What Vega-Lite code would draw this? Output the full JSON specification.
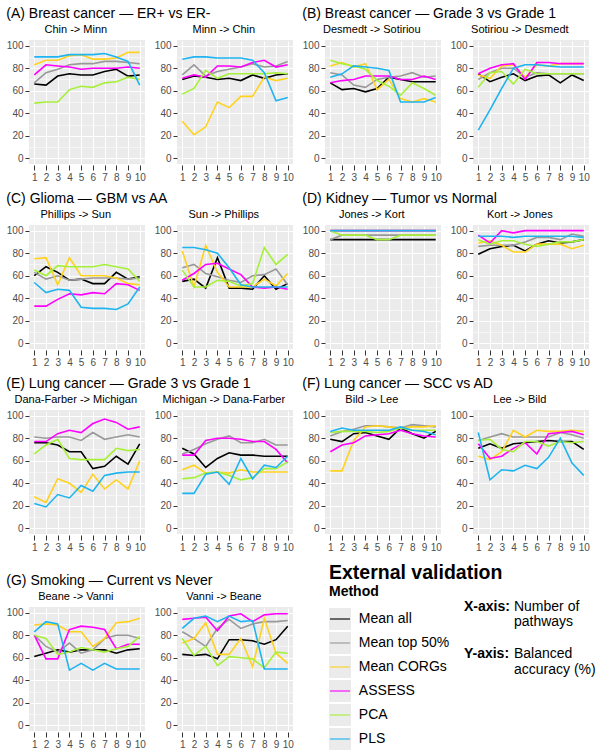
{
"$schema":"https://vega.github.io/schema/vega-lite/v6.json",
"background":"white",
"padding":{"left":6,"top":7,"right":2,"bottom":2},
"datasets":{"pts":[
{"p":"A1","c":"a","x":1,"y":66},{"p":"A1","c":"a","x":2,"y":65},{"p":"A1","c":"a","x":3,"y":73},{"p":"A1","c":"a","x":4,"y":75},{"p":"A1","c":"a","x":5,"y":74},{"p":"A1","c":"a","x":6,"y":74},{"p":"A1","c":"a","x":7,"y":77},{"p":"A1","c":"a","x":8,"y":79},{"p":"A1","c":"a","x":9,"y":73},{"p":"A1","c":"a","x":10,"y":74},
{"p":"A1","c":"b","x":1,"y":67},{"p":"A1","c":"b","x":2,"y":76},{"p":"A1","c":"b","x":3,"y":79},{"p":"A1","c":"b","x":4,"y":83},{"p":"A1","c":"b","x":5,"y":84},{"p":"A1","c":"b","x":6,"y":84},{"p":"A1","c":"b","x":7,"y":86},{"p":"A1","c":"b","x":8,"y":86},{"p":"A1","c":"b","x":9,"y":85},{"p":"A1","c":"b","x":10,"y":84},
{"p":"A1","c":"c","x":1,"y":83},{"p":"A1","c":"c","x":2,"y":87},{"p":"A1","c":"c","x":3,"y":87},{"p":"A1","c":"c","x":4,"y":91},{"p":"A1","c":"c","x":5,"y":92},{"p":"A1","c":"c","x":6,"y":88},{"p":"A1","c":"c","x":7,"y":88},{"p":"A1","c":"c","x":8,"y":89},{"p":"A1","c":"c","x":9,"y":94},{"p":"A1","c":"c","x":10,"y":94},
{"p":"A1","c":"d","x":1,"y":74},{"p":"A1","c":"d","x":2,"y":83},{"p":"A1","c":"d","x":3,"y":82},{"p":"A1","c":"d","x":4,"y":81},{"p":"A1","c":"d","x":5,"y":79},{"p":"A1","c":"d","x":6,"y":80},{"p":"A1","c":"d","x":7,"y":80},{"p":"A1","c":"d","x":8,"y":80},{"p":"A1","c":"d","x":9,"y":81},{"p":"A1","c":"d","x":10,"y":80},
{"p":"A1","c":"e","x":1,"y":49},{"p":"A1","c":"e","x":2,"y":50},{"p":"A1","c":"e","x":3,"y":50},{"p":"A1","c":"e","x":4,"y":61},{"p":"A1","c":"e","x":5,"y":64},{"p":"A1","c":"e","x":6,"y":63},{"p":"A1","c":"e","x":7,"y":67},{"p":"A1","c":"e","x":8,"y":68},{"p":"A1","c":"e","x":9,"y":72},{"p":"A1","c":"e","x":10,"y":70},
{"p":"A1","c":"f","x":1,"y":90},{"p":"A1","c":"f","x":2,"y":90},{"p":"A1","c":"f","x":3,"y":90},{"p":"A1","c":"f","x":4,"y":92},{"p":"A1","c":"f","x":5,"y":92},{"p":"A1","c":"f","x":6,"y":92},{"p":"A1","c":"f","x":7,"y":93},{"p":"A1","c":"f","x":8,"y":90},{"p":"A1","c":"f","x":9,"y":86},{"p":"A1","c":"f","x":10,"y":65},
{"p":"A2","c":"a","x":1,"y":70},{"p":"A2","c":"a","x":2,"y":73},{"p":"A2","c":"a","x":3,"y":72},{"p":"A2","c":"a","x":4,"y":70},{"p":"A2","c":"a","x":5,"y":71},{"p":"A2","c":"a","x":6,"y":69},{"p":"A2","c":"a","x":7,"y":74},{"p":"A2","c":"a","x":8,"y":71},{"p":"A2","c":"a","x":9,"y":74},{"p":"A2","c":"a","x":10,"y":75},
{"p":"A2","c":"b","x":1,"y":74},{"p":"A2","c":"b","x":2,"y":83},{"p":"A2","c":"b","x":3,"y":73},{"p":"A2","c":"b","x":4,"y":77},{"p":"A2","c":"b","x":5,"y":79},{"p":"A2","c":"b","x":6,"y":81},{"p":"A2","c":"b","x":7,"y":84},{"p":"A2","c":"b","x":8,"y":81},{"p":"A2","c":"b","x":9,"y":82},{"p":"A2","c":"b","x":10,"y":86},
{"p":"A2","c":"c","x":1,"y":33},{"p":"A2","c":"c","x":2,"y":21},{"p":"A2","c":"c","x":3,"y":28},{"p":"A2","c":"c","x":4,"y":50},{"p":"A2","c":"c","x":5,"y":45},{"p":"A2","c":"c","x":6,"y":55},{"p":"A2","c":"c","x":7,"y":55},{"p":"A2","c":"c","x":8,"y":72},{"p":"A2","c":"c","x":9,"y":69},{"p":"A2","c":"c","x":10,"y":71},
{"p":"A2","c":"d","x":1,"y":71},{"p":"A2","c":"d","x":2,"y":74},{"p":"A2","c":"d","x":3,"y":72},{"p":"A2","c":"d","x":4,"y":82},{"p":"A2","c":"d","x":5,"y":82},{"p":"A2","c":"d","x":6,"y":81},{"p":"A2","c":"d","x":7,"y":85},{"p":"A2","c":"d","x":8,"y":87},{"p":"A2","c":"d","x":9,"y":81},{"p":"A2","c":"d","x":10,"y":83},
{"p":"A2","c":"e","x":1,"y":57},{"p":"A2","c":"e","x":2,"y":62},{"p":"A2","c":"e","x":3,"y":78},{"p":"A2","c":"e","x":4,"y":71},{"p":"A2","c":"e","x":5,"y":75},{"p":"A2","c":"e","x":6,"y":75},{"p":"A2","c":"e","x":7,"y":75},{"p":"A2","c":"e","x":8,"y":75},{"p":"A2","c":"e","x":9,"y":76},{"p":"A2","c":"e","x":10,"y":75},
{"p":"A2","c":"f","x":1,"y":88},{"p":"A2","c":"f","x":2,"y":90},{"p":"A2","c":"f","x":3,"y":90},{"p":"A2","c":"f","x":4,"y":89},{"p":"A2","c":"f","x":5,"y":89},{"p":"A2","c":"f","x":6,"y":89},{"p":"A2","c":"f","x":7,"y":87},{"p":"A2","c":"f","x":8,"y":76},{"p":"A2","c":"f","x":9,"y":51},{"p":"A2","c":"f","x":10,"y":54},
{"p":"B1","c":"a","x":1,"y":67},{"p":"B1","c":"a","x":2,"y":61},{"p":"B1","c":"a","x":3,"y":62},{"p":"B1","c":"a","x":4,"y":59},{"p":"B1","c":"a","x":5,"y":62},{"p":"B1","c":"a","x":6,"y":72},{"p":"B1","c":"a","x":7,"y":70},{"p":"B1","c":"a","x":8,"y":68},{"p":"B1","c":"a","x":9,"y":68},{"p":"B1","c":"a","x":10,"y":68},
{"p":"B1","c":"b","x":1,"y":76},{"p":"B1","c":"b","x":2,"y":74},{"p":"B1","c":"b","x":3,"y":65},{"p":"B1","c":"b","x":4,"y":63},{"p":"B1","c":"b","x":5,"y":70},{"p":"B1","c":"b","x":6,"y":72},{"p":"B1","c":"b","x":7,"y":73},{"p":"B1","c":"b","x":8,"y":76},{"p":"B1","c":"b","x":9,"y":72},{"p":"B1","c":"b","x":10,"y":73},
{"p":"B1","c":"c","x":1,"y":82},{"p":"B1","c":"c","x":2,"y":85},{"p":"B1","c":"c","x":3,"y":81},{"p":"B1","c":"c","x":4,"y":84},{"p":"B1","c":"c","x":5,"y":61},{"p":"B1","c":"c","x":6,"y":70},{"p":"B1","c":"c","x":7,"y":53},{"p":"B1","c":"c","x":8,"y":50},{"p":"B1","c":"c","x":9,"y":53},{"p":"B1","c":"c","x":10,"y":50},
{"p":"B1","c":"d","x":1,"y":67},{"p":"B1","c":"d","x":2,"y":69},{"p":"B1","c":"d","x":3,"y":70},{"p":"B1","c":"d","x":4,"y":73},{"p":"B1","c":"d","x":5,"y":73},{"p":"B1","c":"d","x":6,"y":73},{"p":"B1","c":"d","x":7,"y":70},{"p":"B1","c":"d","x":8,"y":70},{"p":"B1","c":"d","x":9,"y":73},{"p":"B1","c":"d","x":10,"y":70},
{"p":"B1","c":"e","x":1,"y":87},{"p":"B1","c":"e","x":2,"y":84},{"p":"B1","c":"e","x":3,"y":82},{"p":"B1","c":"e","x":4,"y":79},{"p":"B1","c":"e","x":5,"y":69},{"p":"B1","c":"e","x":6,"y":64},{"p":"B1","c":"e","x":7,"y":56},{"p":"B1","c":"e","x":8,"y":67},{"p":"B1","c":"e","x":9,"y":62},{"p":"B1","c":"e","x":10,"y":56},
{"p":"B1","c":"f","x":1,"y":72},{"p":"B1","c":"f","x":2,"y":75},{"p":"B1","c":"f","x":3,"y":82},{"p":"B1","c":"f","x":4,"y":81},{"p":"B1","c":"f","x":5,"y":80},{"p":"B1","c":"f","x":6,"y":78},{"p":"B1","c":"f","x":7,"y":50},{"p":"B1","c":"f","x":8,"y":50},{"p":"B1","c":"f","x":9,"y":50},{"p":"B1","c":"f","x":10,"y":54},
{"p":"B2","c":"a","x":1,"y":75},{"p":"B2","c":"a","x":2,"y":68},{"p":"B2","c":"a","x":3,"y":72},{"p":"B2","c":"a","x":4,"y":75},{"p":"B2","c":"a","x":5,"y":69},{"p":"B2","c":"a","x":6,"y":73},{"p":"B2","c":"a","x":7,"y":74},{"p":"B2","c":"a","x":8,"y":67},{"p":"B2","c":"a","x":9,"y":74},{"p":"B2","c":"a","x":10,"y":69},
{"p":"B2","c":"b","x":1,"y":70},{"p":"B2","c":"b","x":2,"y":76},{"p":"B2","c":"b","x":3,"y":80},{"p":"B2","c":"b","x":4,"y":80},{"p":"B2","c":"b","x":5,"y":72},{"p":"B2","c":"b","x":6,"y":76},{"p":"B2","c":"b","x":7,"y":75},{"p":"B2","c":"b","x":8,"y":75},{"p":"B2","c":"b","x":9,"y":75},{"p":"B2","c":"b","x":10,"y":75},
{"p":"B2","c":"c","x":1,"y":74},{"p":"B2","c":"c","x":2,"y":71},{"p":"B2","c":"c","x":3,"y":82},{"p":"B2","c":"c","x":4,"y":83},{"p":"B2","c":"c","x":5,"y":72},{"p":"B2","c":"c","x":6,"y":83},{"p":"B2","c":"c","x":7,"y":82},{"p":"B2","c":"c","x":8,"y":84},{"p":"B2","c":"c","x":9,"y":84},{"p":"B2","c":"c","x":10,"y":84},
{"p":"B2","c":"d","x":1,"y":75},{"p":"B2","c":"d","x":2,"y":80},{"p":"B2","c":"d","x":3,"y":83},{"p":"B2","c":"d","x":4,"y":84},{"p":"B2","c":"d","x":5,"y":70},{"p":"B2","c":"d","x":6,"y":85},{"p":"B2","c":"d","x":7,"y":85},{"p":"B2","c":"d","x":8,"y":84},{"p":"B2","c":"d","x":9,"y":84},{"p":"B2","c":"d","x":10,"y":84},
{"p":"B2","c":"e","x":1,"y":63},{"p":"B2","c":"e","x":2,"y":76},{"p":"B2","c":"e","x":3,"y":77},{"p":"B2","c":"e","x":4,"y":66},{"p":"B2","c":"e","x":5,"y":79},{"p":"B2","c":"e","x":6,"y":75},{"p":"B2","c":"e","x":7,"y":75},{"p":"B2","c":"e","x":8,"y":75},{"p":"B2","c":"e","x":9,"y":75},{"p":"B2","c":"e","x":10,"y":75},
{"p":"B2","c":"f","x":1,"y":25},{"p":"B2","c":"f","x":2,"y":43},{"p":"B2","c":"f","x":3,"y":62},{"p":"B2","c":"f","x":4,"y":80},{"p":"B2","c":"f","x":5,"y":83},{"p":"B2","c":"f","x":6,"y":83},{"p":"B2","c":"f","x":7,"y":82},{"p":"B2","c":"f","x":8,"y":81},{"p":"B2","c":"f","x":9,"y":81},{"p":"B2","c":"f","x":10,"y":81},
{"p":"C1","c":"a","x":1,"y":60},{"p":"C1","c":"a","x":2,"y":68},{"p":"C1","c":"a","x":3,"y":63},{"p":"C1","c":"a","x":4,"y":56},{"p":"C1","c":"a","x":5,"y":57},{"p":"C1","c":"a","x":6,"y":53},{"p":"C1","c":"a","x":7,"y":53},{"p":"C1","c":"a","x":8,"y":63},{"p":"C1","c":"a","x":9,"y":57},{"p":"C1","c":"a","x":10,"y":59},
{"p":"C1","c":"b","x":1,"y":63},{"p":"C1","c":"b","x":2,"y":57},{"p":"C1","c":"b","x":3,"y":60},{"p":"C1","c":"b","x":4,"y":56},{"p":"C1","c":"b","x":5,"y":57},{"p":"C1","c":"b","x":6,"y":58},{"p":"C1","c":"b","x":7,"y":58},{"p":"C1","c":"b","x":8,"y":58},{"p":"C1","c":"b","x":9,"y":57},{"p":"C1","c":"b","x":10,"y":58},
{"p":"C1","c":"c","x":1,"y":75},{"p":"C1","c":"c","x":2,"y":76},{"p":"C1","c":"c","x":3,"y":52},{"p":"C1","c":"c","x":4,"y":76},{"p":"C1","c":"c","x":5,"y":60},{"p":"C1","c":"c","x":6,"y":60},{"p":"C1","c":"c","x":7,"y":60},{"p":"C1","c":"c","x":8,"y":58},{"p":"C1","c":"c","x":9,"y":53},{"p":"C1","c":"c","x":10,"y":52},
{"p":"C1","c":"d","x":1,"y":33},{"p":"C1","c":"d","x":2,"y":33},{"p":"C1","c":"d","x":3,"y":39},{"p":"C1","c":"d","x":4,"y":44},{"p":"C1","c":"d","x":5,"y":43},{"p":"C1","c":"d","x":6,"y":45},{"p":"C1","c":"d","x":7,"y":44},{"p":"C1","c":"d","x":8,"y":53},{"p":"C1","c":"d","x":9,"y":52},{"p":"C1","c":"d","x":10,"y":47},
{"p":"C1","c":"e","x":1,"y":65},{"p":"C1","c":"e","x":2,"y":60},{"p":"C1","c":"e","x":3,"y":69},{"p":"C1","c":"e","x":4,"y":68},{"p":"C1","c":"e","x":5,"y":68},{"p":"C1","c":"e","x":6,"y":68},{"p":"C1","c":"e","x":7,"y":70},{"p":"C1","c":"e","x":8,"y":68},{"p":"C1","c":"e","x":9,"y":66},{"p":"C1","c":"e","x":10,"y":55},
{"p":"C1","c":"f","x":1,"y":54},{"p":"C1","c":"f","x":2,"y":45},{"p":"C1","c":"f","x":3,"y":48},{"p":"C1","c":"f","x":4,"y":47},{"p":"C1","c":"f","x":5,"y":32},{"p":"C1","c":"f","x":6,"y":31},{"p":"C1","c":"f","x":7,"y":31},{"p":"C1","c":"f","x":8,"y":30},{"p":"C1","c":"f","x":9,"y":35},{"p":"C1","c":"f","x":10,"y":50},
{"p":"C2","c":"a","x":1,"y":55},{"p":"C2","c":"a","x":2,"y":57},{"p":"C2","c":"a","x":3,"y":49},{"p":"C2","c":"a","x":4,"y":76},{"p":"C2","c":"a","x":5,"y":49},{"p":"C2","c":"a","x":6,"y":49},{"p":"C2","c":"a","x":7,"y":48},{"p":"C2","c":"a","x":8,"y":60},{"p":"C2","c":"a","x":9,"y":48},{"p":"C2","c":"a","x":10,"y":53},
{"p":"C2","c":"b","x":1,"y":67},{"p":"C2","c":"b","x":2,"y":70},{"p":"C2","c":"b","x":3,"y":62},{"p":"C2","c":"b","x":4,"y":59},{"p":"C2","c":"b","x":5,"y":56},{"p":"C2","c":"b","x":6,"y":54},{"p":"C2","c":"b","x":7,"y":60},{"p":"C2","c":"b","x":8,"y":61},{"p":"C2","c":"b","x":9,"y":66},{"p":"C2","c":"b","x":10,"y":52},
{"p":"C2","c":"c","x":1,"y":82},{"p":"C2","c":"c","x":2,"y":50},{"p":"C2","c":"c","x":3,"y":87},{"p":"C2","c":"c","x":4,"y":63},{"p":"C2","c":"c","x":5,"y":50},{"p":"C2","c":"c","x":6,"y":50},{"p":"C2","c":"c","x":7,"y":50},{"p":"C2","c":"c","x":8,"y":57},{"p":"C2","c":"c","x":9,"y":51},{"p":"C2","c":"c","x":10,"y":62},
{"p":"C2","c":"d","x":1,"y":56},{"p":"C2","c":"d","x":2,"y":62},{"p":"C2","c":"d","x":3,"y":70},{"p":"C2","c":"d","x":4,"y":71},{"p":"C2","c":"d","x":5,"y":66},{"p":"C2","c":"d","x":6,"y":61},{"p":"C2","c":"d","x":7,"y":50},{"p":"C2","c":"d","x":8,"y":49},{"p":"C2","c":"d","x":9,"y":50},{"p":"C2","c":"d","x":10,"y":48},
{"p":"C2","c":"e","x":1,"y":65},{"p":"C2","c":"e","x":2,"y":50},{"p":"C2","c":"e","x":3,"y":50},{"p":"C2","c":"e","x":4,"y":56},{"p":"C2","c":"e","x":5,"y":55},{"p":"C2","c":"e","x":6,"y":51},{"p":"C2","c":"e","x":7,"y":53},{"p":"C2","c":"e","x":8,"y":85},{"p":"C2","c":"e","x":9,"y":70},{"p":"C2","c":"e","x":10,"y":79},
{"p":"C2","c":"f","x":1,"y":85},{"p":"C2","c":"f","x":2,"y":85},{"p":"C2","c":"f","x":3,"y":83},{"p":"C2","c":"f","x":4,"y":80},{"p":"C2","c":"f","x":5,"y":67},{"p":"C2","c":"f","x":6,"y":52},{"p":"C2","c":"f","x":7,"y":50},{"p":"C2","c":"f","x":8,"y":50},{"p":"C2","c":"f","x":9,"y":50},{"p":"C2","c":"f","x":10,"y":50},
{"p":"D1","c":"a","x":1,"y":92},{"p":"D1","c":"a","x":2,"y":92},{"p":"D1","c":"a","x":3,"y":92},{"p":"D1","c":"a","x":4,"y":92},{"p":"D1","c":"a","x":5,"y":92},{"p":"D1","c":"a","x":6,"y":92},{"p":"D1","c":"a","x":7,"y":92},{"p":"D1","c":"a","x":8,"y":92},{"p":"D1","c":"a","x":9,"y":92},{"p":"D1","c":"a","x":10,"y":92},
{"p":"D1","c":"b","x":1,"y":92},{"p":"D1","c":"b","x":2,"y":96},{"p":"D1","c":"b","x":3,"y":96},{"p":"D1","c":"b","x":4,"y":96},{"p":"D1","c":"b","x":5,"y":96},{"p":"D1","c":"b","x":6,"y":96},{"p":"D1","c":"b","x":7,"y":96},{"p":"D1","c":"b","x":8,"y":96},{"p":"D1","c":"b","x":9,"y":96},{"p":"D1","c":"b","x":10,"y":96},
{"p":"D1","c":"c","x":1,"y":100},{"p":"D1","c":"c","x":2,"y":100},{"p":"D1","c":"c","x":3,"y":100},{"p":"D1","c":"c","x":4,"y":100},{"p":"D1","c":"c","x":5,"y":100},{"p":"D1","c":"c","x":6,"y":100},{"p":"D1","c":"c","x":7,"y":100},{"p":"D1","c":"c","x":8,"y":100},{"p":"D1","c":"c","x":9,"y":100},{"p":"D1","c":"c","x":10,"y":100},
{"p":"D1","c":"d","x":1,"y":100},{"p":"D1","c":"d","x":2,"y":100},{"p":"D1","c":"d","x":3,"y":100},{"p":"D1","c":"d","x":4,"y":100},{"p":"D1","c":"d","x":5,"y":100},{"p":"D1","c":"d","x":6,"y":100},{"p":"D1","c":"d","x":7,"y":100},{"p":"D1","c":"d","x":8,"y":100},{"p":"D1","c":"d","x":9,"y":100},{"p":"D1","c":"d","x":10,"y":100},
{"p":"D1","c":"e","x":1,"y":100},{"p":"D1","c":"e","x":2,"y":96},{"p":"D1","c":"e","x":3,"y":96},{"p":"D1","c":"e","x":4,"y":96},{"p":"D1","c":"e","x":5,"y":92},{"p":"D1","c":"e","x":6,"y":92},{"p":"D1","c":"e","x":7,"y":96},{"p":"D1","c":"e","x":8,"y":96},{"p":"D1","c":"e","x":9,"y":96},{"p":"D1","c":"e","x":10,"y":96},
{"p":"D1","c":"f","x":1,"y":100},{"p":"D1","c":"f","x":2,"y":100},{"p":"D1","c":"f","x":3,"y":100},{"p":"D1","c":"f","x":4,"y":100},{"p":"D1","c":"f","x":5,"y":100},{"p":"D1","c":"f","x":6,"y":100},{"p":"D1","c":"f","x":7,"y":100},{"p":"D1","c":"f","x":8,"y":100},{"p":"D1","c":"f","x":9,"y":100},{"p":"D1","c":"f","x":10,"y":100},
{"p":"D2","c":"a","x":1,"y":79},{"p":"D2","c":"a","x":2,"y":84},{"p":"D2","c":"a","x":3,"y":86},{"p":"D2","c":"a","x":4,"y":87},{"p":"D2","c":"a","x":5,"y":82},{"p":"D2","c":"a","x":6,"y":88},{"p":"D2","c":"a","x":7,"y":91},{"p":"D2","c":"a","x":8,"y":89},{"p":"D2","c":"a","x":9,"y":90},{"p":"D2","c":"a","x":10,"y":92},
{"p":"D2","c":"b","x":1,"y":86},{"p":"D2","c":"b","x":2,"y":87},{"p":"D2","c":"b","x":3,"y":87},{"p":"D2","c":"b","x":4,"y":87},{"p":"D2","c":"b","x":5,"y":90},{"p":"D2","c":"b","x":6,"y":94},{"p":"D2","c":"b","x":7,"y":94},{"p":"D2","c":"b","x":8,"y":92},{"p":"D2","c":"b","x":9,"y":97},{"p":"D2","c":"b","x":10,"y":95},
{"p":"D2","c":"c","x":1,"y":89},{"p":"D2","c":"c","x":2,"y":91},{"p":"D2","c":"c","x":3,"y":87},{"p":"D2","c":"c","x":4,"y":81},{"p":"D2","c":"c","x":5,"y":81},{"p":"D2","c":"c","x":6,"y":88},{"p":"D2","c":"c","x":7,"y":88},{"p":"D2","c":"c","x":8,"y":88},{"p":"D2","c":"c","x":9,"y":84},{"p":"D2","c":"c","x":10,"y":87},
{"p":"D2","c":"d","x":1,"y":96},{"p":"D2","c":"d","x":2,"y":89},{"p":"D2","c":"d","x":3,"y":100},{"p":"D2","c":"d","x":4,"y":98},{"p":"D2","c":"d","x":5,"y":100},{"p":"D2","c":"d","x":6,"y":100},{"p":"D2","c":"d","x":7,"y":100},{"p":"D2","c":"d","x":8,"y":100},{"p":"D2","c":"d","x":9,"y":100},{"p":"D2","c":"d","x":10,"y":100},
{"p":"D2","c":"e","x":1,"y":92},{"p":"D2","c":"e","x":2,"y":88},{"p":"D2","c":"e","x":3,"y":91},{"p":"D2","c":"e","x":4,"y":91},{"p":"D2","c":"e","x":5,"y":88},{"p":"D2","c":"e","x":6,"y":86},{"p":"D2","c":"e","x":7,"y":88},{"p":"D2","c":"e","x":8,"y":90},{"p":"D2","c":"e","x":9,"y":90},{"p":"D2","c":"e","x":10,"y":92},
{"p":"D2","c":"f","x":1,"y":95},{"p":"D2","c":"f","x":2,"y":95},{"p":"D2","c":"f","x":3,"y":95},{"p":"D2","c":"f","x":4,"y":94},{"p":"D2","c":"f","x":5,"y":95},{"p":"D2","c":"f","x":6,"y":95},{"p":"D2","c":"f","x":7,"y":95},{"p":"D2","c":"f","x":8,"y":95},{"p":"D2","c":"f","x":9,"y":95},{"p":"D2","c":"f","x":10,"y":94},
{"p":"E1","c":"a","x":1,"y":76},{"p":"E1","c":"a","x":2,"y":76},{"p":"E1","c":"a","x":3,"y":74},{"p":"E1","c":"a","x":4,"y":68},{"p":"E1","c":"a","x":5,"y":68},{"p":"E1","c":"a","x":6,"y":53},{"p":"E1","c":"a","x":7,"y":55},{"p":"E1","c":"a","x":8,"y":64},{"p":"E1","c":"a","x":9,"y":57},{"p":"E1","c":"a","x":10,"y":75},
{"p":"E1","c":"b","x":1,"y":81},{"p":"E1","c":"b","x":2,"y":80},{"p":"E1","c":"b","x":3,"y":81},{"p":"E1","c":"b","x":4,"y":81},{"p":"E1","c":"b","x":5,"y":78},{"p":"E1","c":"b","x":6,"y":85},{"p":"E1","c":"b","x":7,"y":79},{"p":"E1","c":"b","x":8,"y":81},{"p":"E1","c":"b","x":9,"y":83},{"p":"E1","c":"b","x":10,"y":81},
{"p":"E1","c":"c","x":1,"y":28},{"p":"E1","c":"c","x":2,"y":23},{"p":"E1","c":"c","x":3,"y":44},{"p":"E1","c":"c","x":4,"y":40},{"p":"E1","c":"c","x":5,"y":32},{"p":"E1","c":"c","x":6,"y":48},{"p":"E1","c":"c","x":7,"y":35},{"p":"E1","c":"c","x":8,"y":43},{"p":"E1","c":"c","x":9,"y":35},{"p":"E1","c":"c","x":10,"y":60},
{"p":"E1","c":"d","x":1,"y":77},{"p":"E1","c":"d","x":2,"y":77},{"p":"E1","c":"d","x":3,"y":84},{"p":"E1","c":"d","x":4,"y":87},{"p":"E1","c":"d","x":5,"y":85},{"p":"E1","c":"d","x":6,"y":93},{"p":"E1","c":"d","x":7,"y":97},{"p":"E1","c":"d","x":8,"y":94},{"p":"E1","c":"d","x":9,"y":88},{"p":"E1","c":"d","x":10,"y":90},
{"p":"E1","c":"e","x":1,"y":66},{"p":"E1","c":"e","x":2,"y":74},{"p":"E1","c":"e","x":3,"y":79},{"p":"E1","c":"e","x":4,"y":62},{"p":"E1","c":"e","x":5,"y":61},{"p":"E1","c":"e","x":6,"y":61},{"p":"E1","c":"e","x":7,"y":61},{"p":"E1","c":"e","x":8,"y":71},{"p":"E1","c":"e","x":9,"y":69},{"p":"E1","c":"e","x":10,"y":70},
{"p":"E1","c":"f","x":1,"y":22},{"p":"E1","c":"f","x":2,"y":19},{"p":"E1","c":"f","x":3,"y":30},{"p":"E1","c":"f","x":4,"y":27},{"p":"E1","c":"f","x":5,"y":38},{"p":"E1","c":"f","x":6,"y":33},{"p":"E1","c":"f","x":7,"y":47},{"p":"E1","c":"f","x":8,"y":49},{"p":"E1","c":"f","x":9,"y":50},{"p":"E1","c":"f","x":10,"y":50},
{"p":"E2","c":"a","x":1,"y":71},{"p":"E2","c":"a","x":2,"y":66},{"p":"E2","c":"a","x":3,"y":54},{"p":"E2","c":"a","x":4,"y":62},{"p":"E2","c":"a","x":5,"y":67},{"p":"E2","c":"a","x":6,"y":65},{"p":"E2","c":"a","x":7,"y":65},{"p":"E2","c":"a","x":8,"y":64},{"p":"E2","c":"a","x":9,"y":64},{"p":"E2","c":"a","x":10,"y":64},
{"p":"E2","c":"b","x":1,"y":66},{"p":"E2","c":"b","x":2,"y":70},{"p":"E2","c":"b","x":3,"y":75},{"p":"E2","c":"b","x":4,"y":79},{"p":"E2","c":"b","x":5,"y":82},{"p":"E2","c":"b","x":6,"y":76},{"p":"E2","c":"b","x":7,"y":76},{"p":"E2","c":"b","x":8,"y":79},{"p":"E2","c":"b","x":9,"y":74},{"p":"E2","c":"b","x":10,"y":74},
{"p":"E2","c":"c","x":1,"y":52},{"p":"E2","c":"c","x":2,"y":56},{"p":"E2","c":"c","x":3,"y":49},{"p":"E2","c":"c","x":4,"y":50},{"p":"E2","c":"c","x":5,"y":49},{"p":"E2","c":"c","x":6,"y":52},{"p":"E2","c":"c","x":7,"y":50},{"p":"E2","c":"c","x":8,"y":50},{"p":"E2","c":"c","x":9,"y":50},{"p":"E2","c":"c","x":10,"y":50},
{"p":"E2","c":"d","x":1,"y":65},{"p":"E2","c":"d","x":2,"y":65},{"p":"E2","c":"d","x":3,"y":78},{"p":"E2","c":"d","x":4,"y":80},{"p":"E2","c":"d","x":5,"y":80},{"p":"E2","c":"d","x":6,"y":79},{"p":"E2","c":"d","x":7,"y":77},{"p":"E2","c":"d","x":8,"y":77},{"p":"E2","c":"d","x":9,"y":70},{"p":"E2","c":"d","x":10,"y":58},
{"p":"E2","c":"e","x":1,"y":44},{"p":"E2","c":"e","x":2,"y":45},{"p":"E2","c":"e","x":3,"y":49},{"p":"E2","c":"e","x":4,"y":50},{"p":"E2","c":"e","x":5,"y":47},{"p":"E2","c":"e","x":6,"y":43},{"p":"E2","c":"e","x":7,"y":45},{"p":"E2","c":"e","x":8,"y":53},{"p":"E2","c":"e","x":9,"y":53},{"p":"E2","c":"e","x":10,"y":59},
{"p":"E2","c":"f","x":1,"y":31},{"p":"E2","c":"f","x":2,"y":31},{"p":"E2","c":"f","x":3,"y":48},{"p":"E2","c":"f","x":4,"y":50},{"p":"E2","c":"f","x":5,"y":39},{"p":"E2","c":"f","x":6,"y":62},{"p":"E2","c":"f","x":7,"y":44},{"p":"E2","c":"f","x":8,"y":56},{"p":"E2","c":"f","x":9,"y":54},{"p":"E2","c":"f","x":10,"y":64},
{"p":"F1","c":"a","x":1,"y":79},{"p":"F1","c":"a","x":2,"y":77},{"p":"F1","c":"a","x":3,"y":84},{"p":"F1","c":"a","x":4,"y":85},{"p":"F1","c":"a","x":5,"y":82},{"p":"F1","c":"a","x":6,"y":79},{"p":"F1","c":"a","x":7,"y":89},{"p":"F1","c":"a","x":8,"y":84},{"p":"F1","c":"a","x":9,"y":80},{"p":"F1","c":"a","x":10,"y":86},
{"p":"F1","c":"b","x":1,"y":82},{"p":"F1","c":"b","x":2,"y":86},{"p":"F1","c":"b","x":3,"y":88},{"p":"F1","c":"b","x":4,"y":91},{"p":"F1","c":"b","x":5,"y":91},{"p":"F1","c":"b","x":6,"y":90},{"p":"F1","c":"b","x":7,"y":89},{"p":"F1","c":"b","x":8,"y":92},{"p":"F1","c":"b","x":9,"y":91},{"p":"F1","c":"b","x":10,"y":90},
{"p":"F1","c":"c","x":1,"y":51},{"p":"F1","c":"c","x":2,"y":51},{"p":"F1","c":"c","x":3,"y":78},{"p":"F1","c":"c","x":4,"y":90},{"p":"F1","c":"c","x":5,"y":91},{"p":"F1","c":"c","x":6,"y":90},{"p":"F1","c":"c","x":7,"y":89},{"p":"F1","c":"c","x":8,"y":90},{"p":"F1","c":"c","x":9,"y":90},{"p":"F1","c":"c","x":10,"y":91},
{"p":"F1","c":"d","x":1,"y":68},{"p":"F1","c":"d","x":2,"y":74},{"p":"F1","c":"d","x":3,"y":76},{"p":"F1","c":"d","x":4,"y":82},{"p":"F1","c":"d","x":5,"y":83},{"p":"F1","c":"d","x":6,"y":84},{"p":"F1","c":"d","x":7,"y":87},{"p":"F1","c":"d","x":8,"y":84},{"p":"F1","c":"d","x":9,"y":82},{"p":"F1","c":"d","x":10,"y":81},
{"p":"F1","c":"e","x":1,"y":85},{"p":"F1","c":"e","x":2,"y":86},{"p":"F1","c":"e","x":3,"y":86},{"p":"F1","c":"e","x":4,"y":86},{"p":"F1","c":"e","x":5,"y":85},{"p":"F1","c":"e","x":6,"y":86},{"p":"F1","c":"e","x":7,"y":89},{"p":"F1","c":"e","x":8,"y":87},{"p":"F1","c":"e","x":9,"y":87},{"p":"F1","c":"e","x":10,"y":87},
{"p":"F1","c":"f","x":1,"y":86},{"p":"F1","c":"f","x":2,"y":89},{"p":"F1","c":"f","x":3,"y":87},{"p":"F1","c":"f","x":4,"y":87},{"p":"F1","c":"f","x":5,"y":87},{"p":"F1","c":"f","x":6,"y":87},{"p":"F1","c":"f","x":7,"y":90},{"p":"F1","c":"f","x":8,"y":87},{"p":"F1","c":"f","x":9,"y":86},{"p":"F1","c":"f","x":10,"y":83},
{"p":"F2","c":"a","x":1,"y":71},{"p":"F2","c":"a","x":2,"y":75},{"p":"F2","c":"a","x":3,"y":71},{"p":"F2","c":"a","x":4,"y":75},{"p":"F2","c":"a","x":5,"y":76},{"p":"F2","c":"a","x":6,"y":77},{"p":"F2","c":"a","x":7,"y":78},{"p":"F2","c":"a","x":8,"y":77},{"p":"F2","c":"a","x":9,"y":77},{"p":"F2","c":"a","x":10,"y":70},
{"p":"F2","c":"b","x":1,"y":78},{"p":"F2","c":"b","x":2,"y":81},{"p":"F2","c":"b","x":3,"y":84},{"p":"F2","c":"b","x":4,"y":81},{"p":"F2","c":"b","x":5,"y":81},{"p":"F2","c":"b","x":6,"y":81},{"p":"F2","c":"b","x":7,"y":81},{"p":"F2","c":"b","x":8,"y":85},{"p":"F2","c":"b","x":9,"y":83},{"p":"F2","c":"b","x":10,"y":80},
{"p":"F2","c":"c","x":1,"y":64},{"p":"F2","c":"c","x":2,"y":61},{"p":"F2","c":"c","x":3,"y":68},{"p":"F2","c":"c","x":4,"y":87},{"p":"F2","c":"c","x":5,"y":81},{"p":"F2","c":"c","x":6,"y":87},{"p":"F2","c":"c","x":7,"y":86},{"p":"F2","c":"c","x":8,"y":86},{"p":"F2","c":"c","x":9,"y":87},{"p":"F2","c":"c","x":10,"y":86},
{"p":"F2","c":"d","x":1,"y":75},{"p":"F2","c":"d","x":2,"y":62},{"p":"F2","c":"d","x":3,"y":64},{"p":"F2","c":"d","x":4,"y":71},{"p":"F2","c":"d","x":5,"y":76},{"p":"F2","c":"d","x":6,"y":66},{"p":"F2","c":"d","x":7,"y":84},{"p":"F2","c":"d","x":8,"y":85},{"p":"F2","c":"d","x":9,"y":86},{"p":"F2","c":"d","x":10,"y":83},
{"p":"F2","c":"e","x":1,"y":78},{"p":"F2","c":"e","x":2,"y":79},{"p":"F2","c":"e","x":3,"y":70},{"p":"F2","c":"e","x":4,"y":68},{"p":"F2","c":"e","x":5,"y":77},{"p":"F2","c":"e","x":6,"y":77},{"p":"F2","c":"e","x":7,"y":73},{"p":"F2","c":"e","x":8,"y":77},{"p":"F2","c":"e","x":9,"y":76},{"p":"F2","c":"e","x":10,"y":77},
{"p":"F2","c":"f","x":1,"y":85},{"p":"F2","c":"f","x":2,"y":43},{"p":"F2","c":"f","x":3,"y":52},{"p":"F2","c":"f","x":4,"y":51},{"p":"F2","c":"f","x":5,"y":56},{"p":"F2","c":"f","x":6,"y":53},{"p":"F2","c":"f","x":7,"y":63},{"p":"F2","c":"f","x":8,"y":80},{"p":"F2","c":"f","x":9,"y":58},{"p":"F2","c":"f","x":10,"y":47},
{"p":"G1","c":"a","x":1,"y":61},{"p":"G1","c":"a","x":2,"y":64},{"p":"G1","c":"a","x":3,"y":67},{"p":"G1","c":"a","x":4,"y":65},{"p":"G1","c":"a","x":5,"y":67},{"p":"G1","c":"a","x":6,"y":67},{"p":"G1","c":"a","x":7,"y":67},{"p":"G1","c":"a","x":8,"y":64},{"p":"G1","c":"a","x":9,"y":67},{"p":"G1","c":"a","x":10,"y":68},
{"p":"G1","c":"b","x":1,"y":80},{"p":"G1","c":"b","x":2,"y":70},{"p":"G1","c":"b","x":3,"y":65},{"p":"G1","c":"b","x":4,"y":73},{"p":"G1","c":"b","x":5,"y":64},{"p":"G1","c":"b","x":6,"y":67},{"p":"G1","c":"b","x":7,"y":77},{"p":"G1","c":"b","x":8,"y":80},{"p":"G1","c":"b","x":9,"y":80},{"p":"G1","c":"b","x":10,"y":77},
{"p":"G1","c":"c","x":1,"y":89},{"p":"G1","c":"c","x":2,"y":90},{"p":"G1","c":"c","x":3,"y":89},{"p":"G1","c":"c","x":4,"y":83},{"p":"G1","c":"c","x":5,"y":83},{"p":"G1","c":"c","x":6,"y":70},{"p":"G1","c":"c","x":7,"y":77},{"p":"G1","c":"c","x":8,"y":91},{"p":"G1","c":"c","x":9,"y":92},{"p":"G1","c":"c","x":10,"y":95},
{"p":"G1","c":"d","x":1,"y":80},{"p":"G1","c":"d","x":2,"y":59},{"p":"G1","c":"d","x":3,"y":59},{"p":"G1","c":"d","x":4,"y":85},{"p":"G1","c":"d","x":5,"y":88},{"p":"G1","c":"d","x":6,"y":87},{"p":"G1","c":"d","x":7,"y":85},{"p":"G1","c":"d","x":8,"y":68},{"p":"G1","c":"d","x":9,"y":72},{"p":"G1","c":"d","x":10,"y":72},
{"p":"G1","c":"e","x":1,"y":80},{"p":"G1","c":"e","x":2,"y":77},{"p":"G1","c":"e","x":3,"y":63},{"p":"G1","c":"e","x":4,"y":65},{"p":"G1","c":"e","x":5,"y":69},{"p":"G1","c":"e","x":6,"y":67},{"p":"G1","c":"e","x":7,"y":65},{"p":"G1","c":"e","x":8,"y":68},{"p":"G1","c":"e","x":9,"y":70},{"p":"G1","c":"e","x":10,"y":79},
{"p":"G1","c":"f","x":1,"y":83},{"p":"G1","c":"f","x":2,"y":92},{"p":"G1","c":"f","x":3,"y":90},{"p":"G1","c":"f","x":4,"y":49},{"p":"G1","c":"f","x":5,"y":55},{"p":"G1","c":"f","x":6,"y":49},{"p":"G1","c":"f","x":7,"y":55},{"p":"G1","c":"f","x":8,"y":50},{"p":"G1","c":"f","x":9,"y":50},{"p":"G1","c":"f","x":10,"y":50},
{"p":"G2","c":"a","x":1,"y":63},{"p":"G2","c":"a","x":2,"y":62},{"p":"G2","c":"a","x":3,"y":63},{"p":"G2","c":"a","x":4,"y":59},{"p":"G2","c":"a","x":5,"y":76},{"p":"G2","c":"a","x":6,"y":76},{"p":"G2","c":"a","x":7,"y":75},{"p":"G2","c":"a","x":8,"y":72},{"p":"G2","c":"a","x":9,"y":76},{"p":"G2","c":"a","x":10,"y":88},
{"p":"G2","c":"b","x":1,"y":83},{"p":"G2","c":"b","x":2,"y":77},{"p":"G2","c":"b","x":3,"y":70},{"p":"G2","c":"b","x":4,"y":86},{"p":"G2","c":"b","x":5,"y":94},{"p":"G2","c":"b","x":6,"y":86},{"p":"G2","c":"b","x":7,"y":90},{"p":"G2","c":"b","x":8,"y":92},{"p":"G2","c":"b","x":9,"y":92},{"p":"G2","c":"b","x":10,"y":93},
{"p":"G2","c":"c","x":1,"y":73},{"p":"G2","c":"c","x":2,"y":77},{"p":"G2","c":"c","x":3,"y":91},{"p":"G2","c":"c","x":4,"y":63},{"p":"G2","c":"c","x":5,"y":63},{"p":"G2","c":"c","x":6,"y":77},{"p":"G2","c":"c","x":7,"y":52},{"p":"G2","c":"c","x":8,"y":95},{"p":"G2","c":"c","x":9,"y":64},{"p":"G2","c":"c","x":10,"y":55},
{"p":"G2","c":"d","x":1,"y":94},{"p":"G2","c":"d","x":2,"y":95},{"p":"G2","c":"d","x":3,"y":96},{"p":"G2","c":"d","x":4,"y":84},{"p":"G2","c":"d","x":5,"y":97},{"p":"G2","c":"d","x":6,"y":99},{"p":"G2","c":"d","x":7,"y":92},{"p":"G2","c":"d","x":8,"y":98},{"p":"G2","c":"d","x":9,"y":99},{"p":"G2","c":"d","x":10,"y":99},
{"p":"G2","c":"e","x":1,"y":77},{"p":"G2","c":"e","x":2,"y":62},{"p":"G2","c":"e","x":3,"y":70},{"p":"G2","c":"e","x":4,"y":53},{"p":"G2","c":"e","x":5,"y":61},{"p":"G2","c":"e","x":6,"y":60},{"p":"G2","c":"e","x":7,"y":59},{"p":"G2","c":"e","x":8,"y":51},{"p":"G2","c":"e","x":9,"y":65},{"p":"G2","c":"e","x":10,"y":64},
{"p":"G2","c":"f","x":1,"y":86},{"p":"G2","c":"f","x":2,"y":95},{"p":"G2","c":"f","x":3,"y":97},{"p":"G2","c":"f","x":4,"y":92},{"p":"G2","c":"f","x":5,"y":97},{"p":"G2","c":"f","x":6,"y":92},{"p":"G2","c":"f","x":7,"y":93},{"p":"G2","c":"f","x":8,"y":50},{"p":"G2","c":"f","x":9,"y":50},{"p":"G2","c":"f","x":10,"y":50}
]},
"data":{"name":"pts"},
"config":{
"font":"Liberation Sans",
"view":{"continuousWidth":116,"continuousHeight":124,"fill":"#EBEBEB","stroke":null},
"range":{"category":["#000000","#999999","#FFD21F","#FF00FF","#A6F03A","#1EB4F0"]},
"line":{"strokeWidth":1.6},
"legend":{"disable":true},
"axis":{"domain":false,"gridColor":"#FFFFFF","gridWidth":1.1,"tickColor":"#333333","labelColor":"#4D4D4D","labelFont":"Liberation Sans","labelFontSize":10,"tickSize":4,"labelPadding":2,"labelOverlap":false},
"axisX":{"offset":1,"tickSize":5,"labelAngle":0},
"title":{"font":"Liberation Sans","fontSize":11,"fontWeight":"normal","color":"#000000","anchor":"middle","frame":"bounds","offset":5},
"concat":{"spacing":8}
},
"spacing":10,
"vconcat":[
{"spacing":8,"hconcat":[
{"title":{"text":"(A) Breast cancer — ER+ vs ER-","fontSize":14,"anchor":"start","offset":3},"spacing":8,"hconcat":[
{"title":"Chin -> Minn","transform":[{"filter":"datum.p=='A1'"}],"mark":"line","encoding":{"x":{"field":"x","type":"quantitative","title":null,"scale":{"domain":[0.55,10.45],"nice":false,"zero":false},"axis":{"values":[1,2,3,4,5,6,7,8,9,10]}},"y":{"field":"y","type":"quantitative","title":null,"scale":{"domain":[-5,105],"nice":false,"zero":false},"axis":{"values":[0,10,20,30,40,50,60,70,80,90,100],"labelExpr":"datum.value%20?'':datum.label","gridWidth":{"condition":{"test":"datum.value%20","value":0.5},"value":1.1},"tickOpacity":{"condition":{"test":"datum.value%20","value":0},"value":1}}},"color":{"field":"c","type":"nominal"}}},
{"title":"Minn -> Chin","transform":[{"filter":"datum.p=='A2'"}],"mark":"line","encoding":{"x":{"field":"x","type":"quantitative","title":null,"scale":{"domain":[0.55,10.45],"nice":false,"zero":false},"axis":{"values":[1,2,3,4,5,6,7,8,9,10]}},"y":{"field":"y","type":"quantitative","title":null,"scale":{"domain":[-5,105],"nice":false,"zero":false},"axis":{"values":[0,10,20,30,40,50,60,70,80,90,100],"labelExpr":"datum.value%20?'':datum.label","gridWidth":{"condition":{"test":"datum.value%20","value":0.5},"value":1.1},"tickOpacity":{"condition":{"test":"datum.value%20","value":0},"value":1}}},"color":{"field":"c","type":"nominal"}}}
]},
{"title":{"text":"(B) Breast cancer — Grade 3 vs Grade 1","fontSize":14,"anchor":"start","offset":3},"spacing":8,"hconcat":[
{"title":"Desmedt -> Sotiriou","transform":[{"filter":"datum.p=='B1'"}],"mark":"line","encoding":{"x":{"field":"x","type":"quantitative","title":null,"scale":{"domain":[0.55,10.45],"nice":false,"zero":false},"axis":{"values":[1,2,3,4,5,6,7,8,9,10]}},"y":{"field":"y","type":"quantitative","title":null,"scale":{"domain":[-5,105],"nice":false,"zero":false},"axis":{"values":[0,10,20,30,40,50,60,70,80,90,100],"labelExpr":"datum.value%20?'':datum.label","gridWidth":{"condition":{"test":"datum.value%20","value":0.5},"value":1.1},"tickOpacity":{"condition":{"test":"datum.value%20","value":0},"value":1}}},"color":{"field":"c","type":"nominal"}}},
{"title":"Sotiriou -> Desmedt","transform":[{"filter":"datum.p=='B2'"}],"mark":"line","encoding":{"x":{"field":"x","type":"quantitative","title":null,"scale":{"domain":[0.55,10.45],"nice":false,"zero":false},"axis":{"values":[1,2,3,4,5,6,7,8,9,10]}},"y":{"field":"y","type":"quantitative","title":null,"scale":{"domain":[-5,105],"nice":false,"zero":false},"axis":{"values":[0,10,20,30,40,50,60,70,80,90,100],"labelExpr":"datum.value%20?'':datum.label","gridWidth":{"condition":{"test":"datum.value%20","value":0.5},"value":1.1},"tickOpacity":{"condition":{"test":"datum.value%20","value":0},"value":1}}},"color":{"field":"c","type":"nominal"}}}
]}
]},
{"spacing":8,"hconcat":[
{"title":{"text":"(C) Glioma — GBM vs AA","fontSize":14,"anchor":"start","offset":3},"spacing":8,"hconcat":[
{"title":"Phillips -> Sun","transform":[{"filter":"datum.p=='C1'"}],"mark":"line","encoding":{"x":{"field":"x","type":"quantitative","title":null,"scale":{"domain":[0.55,10.45],"nice":false,"zero":false},"axis":{"values":[1,2,3,4,5,6,7,8,9,10]}},"y":{"field":"y","type":"quantitative","title":null,"scale":{"domain":[-5,105],"nice":false,"zero":false},"axis":{"values":[0,10,20,30,40,50,60,70,80,90,100],"labelExpr":"datum.value%20?'':datum.label","gridWidth":{"condition":{"test":"datum.value%20","value":0.5},"value":1.1},"tickOpacity":{"condition":{"test":"datum.value%20","value":0},"value":1}}},"color":{"field":"c","type":"nominal"}}},
{"title":"Sun -> Phillips","transform":[{"filter":"datum.p=='C2'"}],"mark":"line","encoding":{"x":{"field":"x","type":"quantitative","title":null,"scale":{"domain":[0.55,10.45],"nice":false,"zero":false},"axis":{"values":[1,2,3,4,5,6,7,8,9,10]}},"y":{"field":"y","type":"quantitative","title":null,"scale":{"domain":[-5,105],"nice":false,"zero":false},"axis":{"values":[0,10,20,30,40,50,60,70,80,90,100],"labelExpr":"datum.value%20?'':datum.label","gridWidth":{"condition":{"test":"datum.value%20","value":0.5},"value":1.1},"tickOpacity":{"condition":{"test":"datum.value%20","value":0},"value":1}}},"color":{"field":"c","type":"nominal"}}}
]},
{"title":{"text":"(D) Kidney — Tumor vs Normal","fontSize":14,"anchor":"start","offset":3},"spacing":8,"hconcat":[
{"title":"Jones -> Kort","transform":[{"filter":"datum.p=='D1'"}],"mark":"line","encoding":{"x":{"field":"x","type":"quantitative","title":null,"scale":{"domain":[0.55,10.45],"nice":false,"zero":false},"axis":{"values":[1,2,3,4,5,6,7,8,9,10]}},"y":{"field":"y","type":"quantitative","title":null,"scale":{"domain":[-5,105],"nice":false,"zero":false},"axis":{"values":[0,10,20,30,40,50,60,70,80,90,100],"labelExpr":"datum.value%20?'':datum.label","gridWidth":{"condition":{"test":"datum.value%20","value":0.5},"value":1.1},"tickOpacity":{"condition":{"test":"datum.value%20","value":0},"value":1}}},"color":{"field":"c","type":"nominal"}}},
{"title":"Kort -> Jones","transform":[{"filter":"datum.p=='D2'"}],"mark":"line","encoding":{"x":{"field":"x","type":"quantitative","title":null,"scale":{"domain":[0.55,10.45],"nice":false,"zero":false},"axis":{"values":[1,2,3,4,5,6,7,8,9,10]}},"y":{"field":"y","type":"quantitative","title":null,"scale":{"domain":[-5,105],"nice":false,"zero":false},"axis":{"values":[0,10,20,30,40,50,60,70,80,90,100],"labelExpr":"datum.value%20?'':datum.label","gridWidth":{"condition":{"test":"datum.value%20","value":0.5},"value":1.1},"tickOpacity":{"condition":{"test":"datum.value%20","value":0},"value":1}}},"color":{"field":"c","type":"nominal"}}}
]}
]},
{"spacing":8,"hconcat":[
{"title":{"text":"(E) Lung cancer — Grade 3 vs Grade 1","fontSize":14,"anchor":"start","offset":3},"spacing":8,"hconcat":[
{"title":"Dana-Farber -> Michigan","transform":[{"filter":"datum.p=='E1'"}],"mark":"line","encoding":{"x":{"field":"x","type":"quantitative","title":null,"scale":{"domain":[0.55,10.45],"nice":false,"zero":false},"axis":{"values":[1,2,3,4,5,6,7,8,9,10]}},"y":{"field":"y","type":"quantitative","title":null,"scale":{"domain":[-5,105],"nice":false,"zero":false},"axis":{"values":[0,10,20,30,40,50,60,70,80,90,100],"labelExpr":"datum.value%20?'':datum.label","gridWidth":{"condition":{"test":"datum.value%20","value":0.5},"value":1.1},"tickOpacity":{"condition":{"test":"datum.value%20","value":0},"value":1}}},"color":{"field":"c","type":"nominal"}}},
{"title":"Michigan -> Dana-Farber","transform":[{"filter":"datum.p=='E2'"}],"mark":"line","encoding":{"x":{"field":"x","type":"quantitative","title":null,"scale":{"domain":[0.55,10.45],"nice":false,"zero":false},"axis":{"values":[1,2,3,4,5,6,7,8,9,10]}},"y":{"field":"y","type":"quantitative","title":null,"scale":{"domain":[-5,105],"nice":false,"zero":false},"axis":{"values":[0,10,20,30,40,50,60,70,80,90,100],"labelExpr":"datum.value%20?'':datum.label","gridWidth":{"condition":{"test":"datum.value%20","value":0.5},"value":1.1},"tickOpacity":{"condition":{"test":"datum.value%20","value":0},"value":1}}},"color":{"field":"c","type":"nominal"}}}
]},
{"title":{"text":"(F) Lung cancer — SCC vs AD","fontSize":14,"anchor":"start","offset":3},"spacing":8,"hconcat":[
{"title":"Bild -> Lee","transform":[{"filter":"datum.p=='F1'"}],"mark":"line","encoding":{"x":{"field":"x","type":"quantitative","title":null,"scale":{"domain":[0.55,10.45],"nice":false,"zero":false},"axis":{"values":[1,2,3,4,5,6,7,8,9,10]}},"y":{"field":"y","type":"quantitative","title":null,"scale":{"domain":[-5,105],"nice":false,"zero":false},"axis":{"values":[0,10,20,30,40,50,60,70,80,90,100],"labelExpr":"datum.value%20?'':datum.label","gridWidth":{"condition":{"test":"datum.value%20","value":0.5},"value":1.1},"tickOpacity":{"condition":{"test":"datum.value%20","value":0},"value":1}}},"color":{"field":"c","type":"nominal"}}},
{"title":"Lee -> Bild","transform":[{"filter":"datum.p=='F2'"}],"mark":"line","encoding":{"x":{"field":"x","type":"quantitative","title":null,"scale":{"domain":[0.55,10.45],"nice":false,"zero":false},"axis":{"values":[1,2,3,4,5,6,7,8,9,10]}},"y":{"field":"y","type":"quantitative","title":null,"scale":{"domain":[-5,105],"nice":false,"zero":false},"axis":{"values":[0,10,20,30,40,50,60,70,80,90,100],"labelExpr":"datum.value%20?'':datum.label","gridWidth":{"condition":{"test":"datum.value%20","value":0.5},"value":1.1},"tickOpacity":{"condition":{"test":"datum.value%20","value":0},"value":1}}},"color":{"field":"c","type":"nominal"}}}
]}
]},
{"spacing":35,"hconcat":[
{"title":{"text":"(G) Smoking — Current vs Never","fontSize":14,"anchor":"start","offset":3},"spacing":8,"hconcat":[
{"title":"Beane -> Vanni","transform":[{"filter":"datum.p=='G1'"}],"mark":"line","encoding":{"x":{"field":"x","type":"quantitative","title":null,"scale":{"domain":[0.55,10.45],"nice":false,"zero":false},"axis":{"values":[1,2,3,4,5,6,7,8,9,10]}},"y":{"field":"y","type":"quantitative","title":null,"scale":{"domain":[-5,105],"nice":false,"zero":false},"axis":{"values":[0,10,20,30,40,50,60,70,80,90,100],"labelExpr":"datum.value%20?'':datum.label","gridWidth":{"condition":{"test":"datum.value%20","value":0.5},"value":1.1},"tickOpacity":{"condition":{"test":"datum.value%20","value":0},"value":1}}},"color":{"field":"c","type":"nominal"}}},
{"title":"Vanni -> Beane","transform":[{"filter":"datum.p=='G2'"}],"mark":"line","encoding":{"x":{"field":"x","type":"quantitative","title":null,"scale":{"domain":[0.55,10.45],"nice":false,"zero":false},"axis":{"values":[1,2,3,4,5,6,7,8,9,10]}},"y":{"field":"y","type":"quantitative","title":null,"scale":{"domain":[-5,105],"nice":false,"zero":false},"axis":{"values":[0,10,20,30,40,50,60,70,80,90,100],"labelExpr":"datum.value%20?'':datum.label","gridWidth":{"condition":{"test":"datum.value%20","value":0.5},"value":1.1},"tickOpacity":{"condition":{"test":"datum.value%20","value":0},"value":1}}},"color":{"field":"c","type":"nominal"}}}
]},
{"width":262,"height":144,"view":{"fill":null,"stroke":null},
"title":{"text":"External validation","subtitle":"Method","fontSize":19.5,"fontWeight":"bold","subtitleFont":"Liberation Sans","subtitleFontSize":14,"subtitleFontWeight":"bold","subtitleColor":"#000000","subtitlePadding":2,"anchor":"start","frame":"group","offset":0},
"data":{"values":[{"c":"a","n":"Mean all"},{"c":"b","n":"Mean top 50%"},{"c":"c","n":"Mean CORGs"},{"c":"d","n":"ASSESS"},{"c":"e","n":"PCA"},{"c":"f","n":"PLS"}]},
"encoding":{"y":{"field":"c","type":"nominal","axis":null,"scale":{"paddingInner":0,"paddingOuter":0}}},
"layer":[
{"mark":{"type":"square","size":484,"color":"#EBEBEB","opacity":1},"encoding":{"x":{"datum":4.2,"type":"quantitative","scale":{"domain":[0,100],"nice":false,"zero":false},"axis":null}}},
{"mark":{"type":"tick","orient":"horizontal","size":20,"thickness":1.6},"encoding":{"x":{"datum":4.2,"type":"quantitative"},"color":{"field":"c","type":"nominal"}}},
{"mark":{"type":"text","align":"left","baseline":"middle","fontSize":14,"font":"Liberation Sans","color":"#000000"},"encoding":{"x":{"datum":11.4,"type":"quantitative"},"text":{"field":"n"}}},
{"data":{"values":[{"t":"X-axis:"}]},"mark":{"type":"text","align":"left","baseline":"middle","fontSize":14,"fontWeight":"bold","font":"Liberation Sans","color":"#000000","dy":-12},"encoding":{"x":{"datum":51.5,"type":"quantitative"},"y":{"datum":"a","type":"nominal"},"text":{"field":"t"}}},
{"data":{"values":[{"t":"Number of"}]},"mark":{"type":"text","align":"left","baseline":"middle","fontSize":14,"font":"Liberation Sans","color":"#000000","dy":-12},"encoding":{"x":{"datum":70.6,"type":"quantitative"},"y":{"datum":"a","type":"nominal"},"text":{"field":"t"}}},
{"data":{"values":[{"t":"pathways"}]},"mark":{"type":"text","align":"left","baseline":"middle","fontSize":14,"font":"Liberation Sans","color":"#000000","dy":3},"encoding":{"x":{"datum":70.6,"type":"quantitative"},"y":{"datum":"a","type":"nominal"},"text":{"field":"t"}}},
{"data":{"values":[{"t":"Y-axis:"}]},"mark":{"type":"text","align":"left","baseline":"middle","fontSize":14,"fontWeight":"bold","font":"Liberation Sans","color":"#000000","dy":-13},"encoding":{"x":{"datum":51.5,"type":"quantitative"},"y":{"datum":"c","type":"nominal"},"text":{"field":"t"}}},
{"data":{"values":[{"t":"Balanced"}]},"mark":{"type":"text","align":"left","baseline":"middle","fontSize":14,"font":"Liberation Sans","color":"#000000","dy":-13},"encoding":{"x":{"datum":70.6,"type":"quantitative"},"y":{"datum":"c","type":"nominal"},"text":{"field":"t"}}},
{"data":{"values":[{"t":"accuracy (%)"}]},"mark":{"type":"text","align":"left","baseline":"middle","fontSize":14,"font":"Liberation Sans","color":"#000000","dy":3},"encoding":{"x":{"datum":70.6,"type":"quantitative"},"y":{"datum":"c","type":"nominal"},"text":{"field":"t"}}}
]}
]}
]
}
